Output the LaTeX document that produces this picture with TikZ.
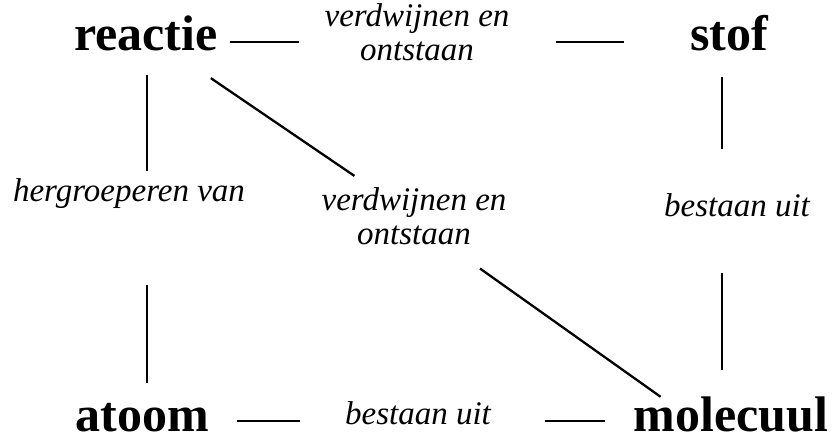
\documentclass[tikz,border=0pt]{standalone}
\usepackage{fontspec}
\setmainfont{Liberation Serif}
\begin{document}
\begin{tikzpicture}[x=1pt,y=1pt,
  concept/.style={inner sep=0pt, text height=18pt, text depth=0pt,
    font=\fontsize{50}{60}\selectfont\bfseries},
  relabel/.style={inner sep=0pt, anchor=base, align=center,
    font=\fontsize{33}{34}\selectfont\itshape},
  link/.style={line width=2.3pt}]
\useasboundingbox (0,0) rectangle (835,439);
% concepts
\node[concept] (reactie) at (146,397) {reactie};
\node[concept] (stof) at (729,397) {stof};
\node[concept] (atoom) at (142.5,17) {atoom};
\node[concept] (molecuul) at (731,17) {molecuul};
% relation labels (base = last line)
\node[relabel] (lab1) at (417,378) {verdwijnen en\\ontstaan};
\node[relabel] (lab2) at (414,194) {verdwijnen en\\ontstaan};
\node[relabel] (lab3) at (129,237) {hergroeperen van};
\node[relabel] (lab4) at (737,222) {bestaan uit};
\node[relabel] (lab5) at (418,15) {bestaan uit};
% connectors
\draw[link, shorten <=12pt, shorten >=25.5pt] (reactie.east) -- (reactie.east -| lab1.west);
\draw[link, shorten <=46.5pt, shorten >=66pt] (stof.west -| lab1.east) -- (stof.west);
\draw[link, shorten <=26pt, shorten >=45pt] ([xshift=-7pt]stof.south) -- ([xshift=-7pt]stof.south |- lab4.north);
\draw[link, shorten <=55pt, shorten >=43pt] ([xshift=-9pt]molecuul.north |- lab4.south) -- ([xshift=-9pt]molecuul.north);
\draw[link, shorten <=28pt, shorten >=45pt] ([yshift=1pt]atoom.east) -- ([yshift=1pt]atoom.east -| lab5.west);
\draw[link, shorten <=54pt, shorten >=29pt] ([yshift=1pt]molecuul.west -| lab5.east) -- ([yshift=1pt]molecuul.west);
\draw[link, shorten <=24pt, shorten >=8pt] ([xshift=1pt]reactie.south) -- ([xshift=1pt]reactie.south |- lab3.north);
\draw[link, shorten <=76pt, shorten >=30pt] ([xshift=4.5pt]atoom.north |- lab3.south) -- ([xshift=4.5pt]atoom.north);
\draw[link] ([shift={(-7pt,-27pt)}]reactie.south east) -- ([shift={(33pt,12pt)}]lab2.north west);
\draw[link] ([shift={(-26.6pt,-23pt)}]lab2.south east) -- ([shift={(27pt,16pt)}]molecuul.north west);
\end{tikzpicture}
\end{document}
